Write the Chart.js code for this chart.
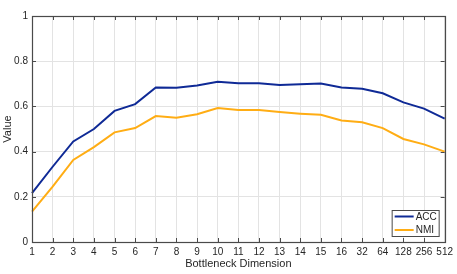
<!DOCTYPE html>
<html>
<head>
<meta charset="utf-8">
<script src="https://cdn.jsdelivr.net/npm/chart.js@4.4.0/dist/chart.umd.min.js"></script>
<style>
  html, body { margin: 0; padding: 0; background: #fff; }
  #wrap { width: 457px; height: 274px; }
</style>
</head>
<body>
<div id="wrap"><canvas id="chart1"></canvas></div>
<script>
// data
var dims = ["1", "2", "3", "4", "5", "6", "7", "8", "9", "10", "11", "12", "13", "14", "15", "16", "32", "64", "128", "256", "512"];
var acc = [0.216, 0.333, 0.445, 0.500, 0.580, 0.610, 0.684, 0.683, 0.692, 0.709, 0.702, 0.702, 0.695, 0.698, 0.701, 0.684, 0.678, 0.658, 0.618, 0.590, 0.546];
var nmi = [0.134, 0.245, 0.363, 0.420, 0.485, 0.504, 0.557, 0.550, 0.565, 0.593, 0.584, 0.584, 0.575, 0.568, 0.563, 0.538, 0.530, 0.504, 0.456, 0.432, 0.400];
var yTicks = [0, 0.2, 0.4, 0.6, 0.8, 1];

var axisColor = '#4a4a4a';
var font = "'Liberation Sans', Arial, sans-serif";

// matlab style box, inward ticks and legend
var boxPlugin = {
    id: 'box',
    afterDraw: function(chart) {
        var ctx = chart.ctx, a = chart.chartArea;
        var xs = chart.scales.x, ys = chart.scales.y;
        ctx.save();
        ctx.strokeStyle = axisColor;
        ctx.lineWidth = 1;
        ctx.beginPath();
        for (var i = 0; i < dims.length; i++) {
            var px = Math.round(xs.getPixelForValue(i)) + 0.5;
            ctx.moveTo(px, a.bottom); ctx.lineTo(px, a.bottom - 4);
            ctx.moveTo(px, a.top); ctx.lineTo(px, a.top + 4);
        }
        yTicks.forEach(function(v) {
            var py = Math.round(ys.getPixelForValue(v)) + 0.5;
            ctx.moveTo(a.left, py); ctx.lineTo(a.left + 4, py);
            ctx.moveTo(a.right, py); ctx.lineTo(a.right - 4, py);
        });
        ctx.stroke();
        ctx.lineWidth = 1.2;
        ctx.strokeRect(Math.round(a.left) + 0.5, Math.round(a.top) + 0.5, Math.round(a.right - a.left), Math.round(a.bottom - a.top));

        // legend, bottom right inside axes
        var lx = a.right - 53, ly = a.bottom - 32, lw = 47, lh = 26;
        ctx.fillStyle = '#fff';
        ctx.fillRect(lx, ly, lw, lh);
        ctx.lineWidth = 1;
        ctx.strokeStyle = axisColor;
        ctx.strokeRect(lx + 0.5, ly + 0.5, lw, lh);
        ctx.font = '10px ' + font;
        ctx.textBaseline = 'middle';
        chart.data.datasets.forEach(function(ds, k) {
            var yy = ly + 6.5 + k * 13.5;
            ctx.strokeStyle = ds.borderColor;
            ctx.lineWidth = 2;
            ctx.beginPath();
            ctx.moveTo(lx + 3, yy); ctx.lineTo(lx + 22, yy);
            ctx.stroke();
            ctx.fillStyle = '#262626';
            ctx.fillText(ds.label, lx + 24, yy + 0.5);
        });
        ctx.restore();
    }
};

var char1El = document.getElementById('chart1');
new Chart(char1El, {
    type: 'line',
    data: {
        labels: dims,
        datasets: [{
            label: "ACC",
            data: acc,
            borderColor: "#0f2a96",
            borderWidth: 2,
            pointRadius: 0,
            tension: 0,
            fill: false
        }, {
            label: "NMI",
            data: nmi,
            borderColor: "#ffad14",
            borderWidth: 2,
            pointRadius: 0,
            tension: 0,
            fill: false
        }]
    },
    options: {
        responsive: true,
        maintainAspectRatio: false,
        animation: false,
        layout: {
            padding: { top: 16, right: 11, left: 0, bottom: 0 }
        },
        plugins: {
            legend: { display: false },
            tooltip: { enabled: false }
        },
        scales: {
            x: {
                offset: false,
                afterFit: function(s) { s.height = 32; },
                grid: { color: '#e3e3e3', drawTicks: false },
                border: { display: false },
                ticks: {
                    color: '#262626',
                    font: { family: font, size: 10 },
                    padding: 4,
                    maxRotation: 0,
                    autoSkip: false
                },
                title: {
                    display: true,
                    text: 'Bottleneck Dimension',
                    color: '#262626',
                    font: { family: font, size: 11 },
                    padding: { top: 0, bottom: 3 }
                }
            },
            y: {
                min: 0,
                max: 1,
                afterFit: function(s) { s.width = 32; },
                afterBuildTicks: function(s) {
                    s.ticks = yTicks.map(function(v) { return { value: v }; });
                },
                grid: { color: '#e3e3e3', drawTicks: false },
                border: { display: false },
                ticks: {
                    color: '#262626',
                    font: { family: font, size: 10 },
                    padding: 4,
                    callback: function(v) { return String(v); }
                },
                title: {
                    display: true,
                    text: 'Value',
                    color: '#262626',
                    font: { family: font, size: 11 },
                    padding: 1
                }
            }
        }
    },
    plugins: [boxPlugin]
});
</script>
</body>
</html>
